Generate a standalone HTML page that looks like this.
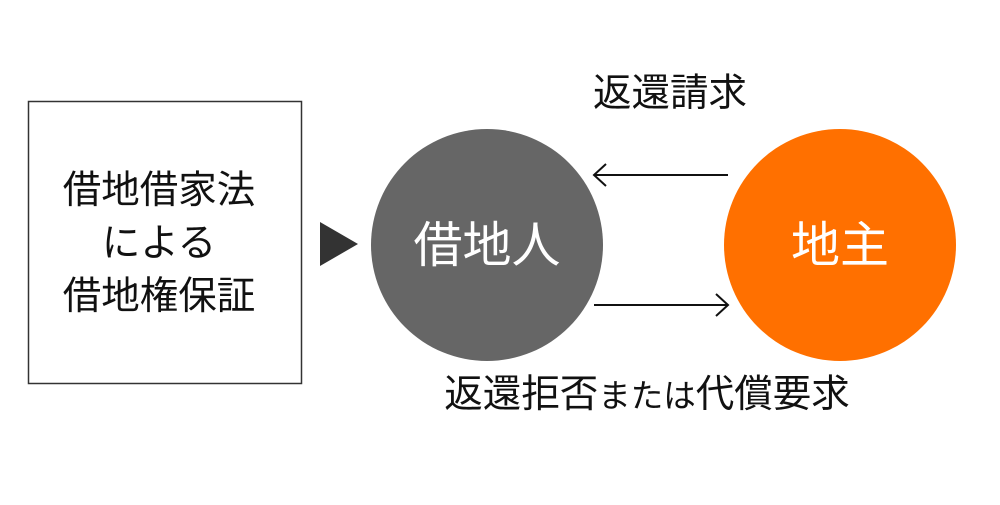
<!DOCTYPE html>
<html><head><meta charset="utf-8"><style>
body{margin:0;width:1000px;height:500px;background:#fff;overflow:hidden;font-family:"Liberation Sans","Noto Sans CJK JP",sans-serif;}
</style></head><body>
<svg width="1000" height="500" xmlns="http://www.w3.org/2000/svg" font-family="Liberation Sans, Noto Sans CJK JP, sans-serif">
<rect x="28.5" y="101.5" width="273" height="282" fill="#fff" stroke="#333" stroke-width="1.5"/>
<g font-size="38.5" fill="#111" text-anchor="middle">
<text x="159" y="203">借地借家法</text>
<text x="159" y="256">による</text>
<text x="159" y="309">借地権保証</text>
</g>
<polygon points="320,222 358,244 320,266" fill="#333"/>
<circle cx="487" cy="245" r="116" fill="#666"/>
<text x="487" y="262" font-size="49" fill="#fff" text-anchor="middle">借地人</text>
<circle cx="840" cy="245" r="116" fill="#ff7000"/>
<text x="840" y="262" font-size="49" fill="#fff" text-anchor="middle">地主</text>
<g stroke="#111" stroke-width="2" fill="none">
<line x1="728" y1="175" x2="594" y2="175"/>
<polyline points="606,164 594,175 606,186"/>
<line x1="594" y1="305" x2="728" y2="305"/>
<polyline points="716,294 728,305 716,316"/>
</g>
<text x="670" y="106" font-size="38.5" fill="#111" text-anchor="middle">返還請求</text>
<text x="647" y="407" font-size="38.5" fill="#111" text-anchor="middle">返還拒否<tspan font-size="32.5">または</tspan>代償要求</text>
</svg>
</body></html>
